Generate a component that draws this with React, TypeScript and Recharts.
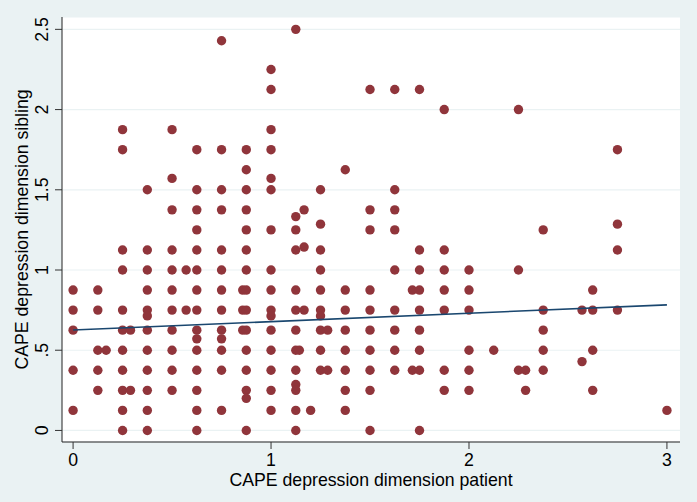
import { ScatterChart, Scatter, XAxis, YAxis, CartesianGrid } from 'recharts';

document.body.style.margin = '0';

// CAPE depression score of the patient (x) and of the sibling (y), read per column
const patientLevels = [
  0, 0.125, 0.167, 0.25, 0.29, 0.375, 0.5, 0.571, 0.625, 0.75, 0.857, 0.875, 1, 1.125, 1.143, 1.167, 1.2, 1.25,
  1.286, 1.375, 1.5, 1.625, 1.714, 1.75, 1.875, 2, 2.125, 2.25, 2.286, 2.375, 2.571, 2.625, 2.75, 3,
];

const siblingAtLevel = [
  [0.875, 0.75, 0.625, 0.375, 0.125],
  [0.875, 0.75, 0.5, 0.375, 0.25],
  [0.5],
  [1.875, 1.75, 1.125, 1, 0.75, 0.625, 0.5, 0.375, 0.25, 0.125, 0],
  [0.625, 0.25],
  [1.5, 1.125, 1, 0.875, 0.75, 0.714, 0.625, 0.5, 0.375, 0.25, 0.125, 0],
  [1.875, 1.571, 1.375, 1.125, 1, 0.875, 0.75, 0.625, 0.5, 0.375, 0.25],
  [1, 0.75],
  [1.75, 1.5, 1.375, 1.25, 1.125, 1, 0.875, 0.75, 0.625, 0.571, 0.5, 0.375, 0.25, 0.125, 0],
  [2.429, 1.75, 1.5, 1.375, 1.125, 1, 0.875, 0.75, 0.625, 0.571, 0.5, 0.375, 0.125],
  [0.875, 0.75, 0.625],
  [1.75, 1.625, 1.5, 1.375, 1.25, 1.125, 1, 0.875, 0.75, 0.625, 0.5, 0.375, 0.25, 0.2, 0],
  [2.25, 2.125, 1.875, 1.75, 1.571, 1.5, 1.25, 1, 0.875, 0.75, 0.714, 0.625, 0.5, 0.375, 0.25, 0.125],
  [2.5, 1.333, 1.25, 1.125, 0.875, 0.75, 0.625, 0.5, 0.375, 0.286, 0.25, 0.125, 0],
  [0.5],
  [1.375, 1.143, 0.75],
  [0.125],
  [1.5, 1.286, 1.125, 1, 0.875, 0.75, 0.714, 0.625, 0.5, 0.375],
  [0.625, 0.375],
  [1.625, 0.875, 0.75, 0.625, 0.5, 0.375, 0.25, 0.125],
  [2.125, 1.375, 1.25, 0.875, 0.75, 0.625, 0.5, 0.375, 0.25, 0],
  [2.125, 1.5, 1.375, 1.25, 1, 0.75, 0.625, 0.5, 0.375],
  [0.875, 0.375],
  [2.125, 1.125, 1, 0.875, 0.75, 0.625, 0.5, 0.375, 0],
  [2, 1.125, 1, 0.875, 0.75, 0.375, 0.25],
  [1, 0.875, 0.75, 0.5, 0.375, 0.25],
  [0.5],
  [2, 1, 0.375],
  [0.375, 0.25],
  [1.25, 0.75, 0.625, 0.5, 0.375],
  [0.75, 0.429],
  [0.875, 0.75, 0.5, 0.25],
  [1.75, 1.286, 1.125, 0.75],
  [0.125],
];

// linear fit line end points
const fitX = [0, 3];
const fitY = [0.626, 0.783];

const xTicks = [0, 1, 2, 3];
const yTicks = [0, 0.5, 1, 1.5, 2, 2.5];

const BG = '#EAF2F3';
const DOT = '#90353B';
const NAVY = '#1A476F';
const FONT = '"Liberation Sans", Arial, sans-serif';

const points = patientLevels.flatMap((x, i) => siblingAtLevel[i]!.map((y) => ({ x, y })));
const fitData = fitX.map((x, i) => ({ x, y: fitY[i] }));

function stataNum(v: number): string {
  const s = String(v);
  return s.startsWith('0.') ? s.slice(1) : s;
}

interface DotProps {
  cx?: number;
  cy?: number;
}

function MaroonDot({ cx, cy }: DotProps) {
  if (cx == null || cy == null) return null;
  return <circle cx={cx} cy={cy} r={4.7} fill={DOT} stroke="none" />;
}

function NoDot() {
  return <g />;
}

function YTick({ x, y, payload }: { x?: number; y?: number; payload?: { value: number } }) {
  if (x == null || y == null || !payload) return null;
  return (
    <text
      transform={`translate(${x - 5}, ${y}) rotate(-90)`}
      textAnchor="middle"
      fontSize={17.7}
      fontFamily={FONT}
      fill="#000"
    >
      {stataNum(payload.value)}
    </text>
  );
}

function YTitle(props: any) {
  const vb = props.viewBox;
  if (!vb) return null;
  return (
    <text
      transform={`translate(${vb.x + 28.3}, ${vb.y + vb.height / 2}) rotate(-90)`}
      textAnchor="middle"
      fontSize={17.7}
      fontFamily={FONT}
      fill="#000"
    >
      CAPE depression dimension sibling
    </text>
  );
}

export default function App() {
  return (
    <div style={{ width: 697, height: 502, background: BG }}>
      <ScatterChart width={697} height={502} margin={{ top: 17, right: 17, bottom: 0, left: 0 }}>
        <CartesianGrid
          vertical={false}
          stroke={BG}
          strokeWidth={1.2}
          fill="#ffffff"
          fillOpacity={1}
        />
        <XAxis
          dataKey="x"
          type="number"
          domain={[-0.056, 3.066]}
          ticks={xTicks}
          allowDataOverflow
          height={60}
          tickSize={7}
          tickMargin={4}
          tick={{ fontSize: 17.7, fontFamily: FONT, fill: '#000' }}
          tickLine={{ stroke: '#333' }}
          axisLine={{ stroke: '#222' }}
          label={{
            value: 'CAPE depression dimension patient',
            position: 'insideBottom',
            offset: 16,
            fontSize: 17.7,
            fontFamily: FONT,
            fill: '#000',
          }}
        />
        <YAxis
          dataKey="y"
          type="number"
          domain={[-0.072, 2.577]}
          ticks={yTicks}
          allowDataOverflow
          width={62}
          tickSize={7}
          tick={<YTick />}
          tickLine={{ stroke: '#333' }}
          axisLine={{ stroke: '#222' }}
          label={{ content: YTitle }}
        />
        <Scatter data={points} shape={<MaroonDot />} isAnimationActive={false} />
        <Scatter
          data={fitData}
          line={{ stroke: NAVY, strokeWidth: 1.6 }}
          shape={<NoDot />}
          isAnimationActive={false}
        />
      </ScatterChart>
    </div>
  );
}
